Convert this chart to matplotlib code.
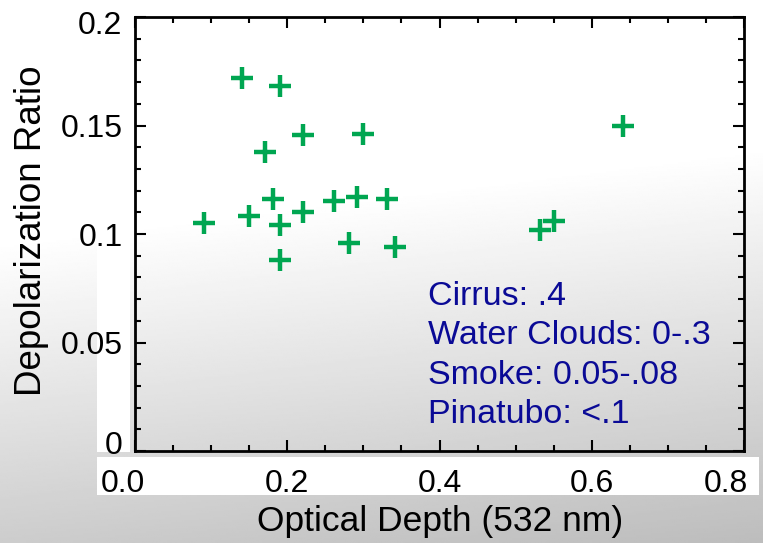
import numpy as np
import matplotlib.pyplot as plt
import matplotlib.transforms as mtransforms
from matplotlib.patches import Rectangle
from matplotlib.ticker import MultipleLocator

plt.rcParams['font.family'] = ['Liberation Sans', 'DejaVu Sans']

# datos
optical_depth = [0.141, 0.191, 0.221, 0.300, 0.171, 0.181, 0.261, 0.291, 0.331,
                 0.090, 0.150, 0.191, 0.221, 0.281, 0.341, 0.191, 0.641, 0.532, 0.551]
depol_ratio = [0.172, 0.168, 0.1455, 0.146, 0.138, 0.116, 0.115, 0.117, 0.116,
               0.105, 0.1085, 0.104, 0.110, 0.096, 0.094, 0.088, 0.150, 0.102, 0.106]
xticks = [0.0, 0.2, 0.4, 0.6, 0.8]
xticklabels = ['0.0', '0.2', '0.4', '0.6', '0.8']
yticks = [0, 0.05, 0.1, 0.15, 0.2]
yticklabels = ['0', '0.05', '0.1', '0.15', '0.2']
notes = ['Cirrus: .4', 'Water Clouds: 0-.3', 'Smoke: 0.05-.08', 'Pinatubo: <.1']

W, H = 763, 543
fig = plt.figure(figsize=(W/100, H/100), dpi=100)

# fondo degradado gris
bg = fig.add_axes([0, 0, 1, 1])
yy, xx = np.mgrid[0:1:300j, 0:1:400j]
s = np.clip((yy*0.85 + xx*0.15 - 0.38)/0.62, 0, 1)
grad = 1.0 - 0.26*s
bg.imshow(grad, cmap='gray', vmin=0, vmax=1, extent=[0, 1, 0, 1], aspect='auto', origin='upper')
bg.set_xlim(0, 1)
bg.set_ylim(0, 1)
bg.axis('off')
# cajas blancas detras de las etiquetas
bg.add_patch(Rectangle((97/W, 1-452/H), 33/W, 452/H, color='white', lw=0))
bg.add_patch(Rectangle((97/W, 1-495/H), 662/W, 38/H, color='white', lw=0))

ax = fig.add_axes([135/W, 1-451/H, 609/W, 434/H])
ax.set_facecolor('none')
ax.plot(optical_depth, depol_ratio, '+', color='#00a651', ms=16, mew=3.2)

ax.set_xlim(0, 0.8)
ax.set_ylim(0, 0.2)
ax.set_xticks(xticks)
ax.set_xticklabels(xticklabels)
ax.set_yticks(yticks)
ax.set_yticklabels(yticklabels)
ax.xaxis.set_minor_locator(MultipleLocator(0.05))
ax.yaxis.set_minor_locator(MultipleLocator(0.01))
ax.tick_params(which='both', direction='in', top=True, right=True, width=1.5, labelsize=23)
ax.tick_params(which='major', length=8)
ax.tick_params(which='minor', length=4)
ax.tick_params(axis='x', pad=13)
ax.tick_params(axis='y', pad=9)
for sp in ax.spines.values():
    sp.set_linewidth(2)

# etiquetas de los extremos desplazadas hacia dentro
def shift(lbl, dx, dy):
    lbl.set_transform(lbl.get_transform() + mtransforms.ScaledTranslation(dx/100, dy/100, fig.dpi_scale_trans))

xl = ax.get_xticklabels()
shift(xl[0], -12, 0)
shift(xl[-1], -18, 0)
yl = ax.get_yticklabels()
shift(yl[0], 0, 9)
shift(yl[-1], 0, -6)

for i, t in enumerate(notes):
    ax.text(0.3855, 0.0674 - i*0.01824, t, color='#0a0a96', fontsize=24.5, va='baseline')

fig.text(440/W, 1-522/H, 'Optical Depth (532 nm)', fontsize=25.5, ha='center', va='center')
fig.text(32/W, 1-231/H, 'Depolarization Ratio', fontsize=26.5, rotation=90, ha='center', va='center')

fig.savefig('out.png', dpi=100)
